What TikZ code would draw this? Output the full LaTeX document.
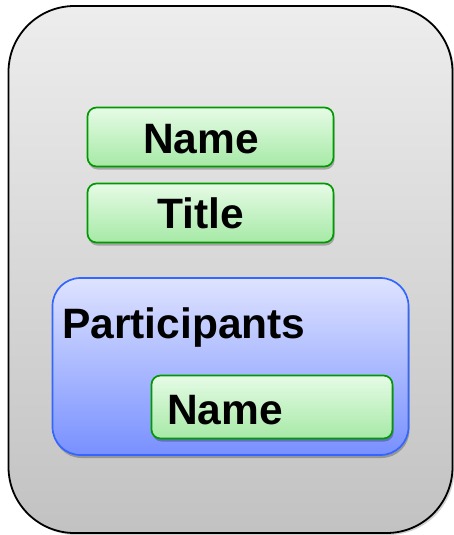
\documentclass[tikz,border=0pt]{standalone}
\usepackage{fontspec}
\setmainfont{Liberation Sans}
\usetikzlibrary{shadows}
\definecolor{outtop}{HTML}{EDEDED}
\definecolor{outbot}{HTML}{C2C2C2}
\definecolor{grtop}{HTML}{E6FBE6}
\definecolor{grbot}{HTML}{A6E9A6}
\definecolor{grline}{HTML}{009A00}
\definecolor{bltop}{HTML}{DEE3FF}
\definecolor{blbot}{HTML}{7890FF}
\definecolor{blline}{HTML}{3366FF}
\tikzset{
  outerbox/.style={draw=black, line width=1.8pt, rounded corners=66pt, top color=outtop, bottom color=outbot,
    drop shadow={shadow xshift=2pt, shadow yshift=-2pt, fill=black, opacity=0.18}},
  greenbox/.style={draw=grline, line width=1.7pt, rounded corners=9pt, top color=grtop, bottom color=grbot,
    drop shadow={shadow xshift=1pt, shadow yshift=-3pt, fill=black, opacity=0.25}},
  bluebox/.style={draw=blline, line width=1.7pt, rounded corners=28pt, top color=bltop, bottom color=blbot,
    drop shadow={shadow xshift=1pt, shadow yshift=-3pt, fill=black, opacity=0.25}},
  lbl/.style={anchor=base west, inner sep=0pt, font=\fontsize{42.5}{43}\selectfont\bfseries, text=black},
}
\begin{document}
\begin{tikzpicture}[x=1pt,y=-1pt]
\useasboundingbox (0,0) rectangle (454,535);
\node[outerbox, minimum width=444pt, minimum height=527pt, inner sep=0pt] (outer) at (230.5,269.5) {};
\node[greenbox, minimum width=246pt, minimum height=59pt, inner sep=0pt] (namebox) at (210.5,137) {};
\node[greenbox, minimum width=246pt, minimum height=59pt, inner sep=0pt] (titlebox) at (210.5,213) {};
\node[bluebox, minimum width=356pt, minimum height=177pt, inner sep=0pt] (partbox) at (230.5,366.5) {};
\node[greenbox, minimum width=241pt, minimum height=63pt, inner sep=0pt] (pnamebox) at (272,407) {};
\node[lbl] (nametxt) at (143,153) {Name};
\node[lbl] (titletxt) at (157,228) {Title};
\node[lbl] (parttxt) at (62,338) {Participants};
\node[lbl] (pnametxt) at (167,424) {Name};
\end{tikzpicture}
\end{document}
